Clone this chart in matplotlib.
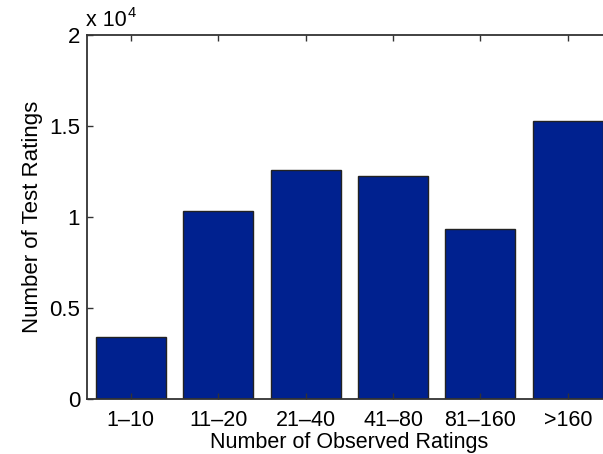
import matplotlib
matplotlib.use("Agg")
import matplotlib.pyplot as plt

categories = ["1–10", "11–20", "21–40", "41–80", "81–160", ">160"]
values = [3385, 10330, 12565, 12250, 9330, 15270]
yticks = [0, 5000, 10000, 15000, 20000]
yticklabels = ["0", "0.5", "1", "1.5", "2"]

plt.rcParams['font.family'] = ['Liberation Sans', 'DejaVu Sans']
FS = 15.5

fig = plt.figure(figsize=(6.03, 4.54), dpi=100)
ax = fig.add_axes([87/603, 55/454, (611.6-87)/603, (399-35)/454])

x = list(range(1, len(categories) + 1))
ax.bar(x, values, width=0.8, color='#00218F', edgecolor='#222222', linewidth=1.0)

ax.set_xlim(0.5, 6.5)
ax.set_ylim(0, 20000)
ax.set_xticks(x)
ax.set_xticklabels(categories, fontsize=FS)
ax.set_yticks(yticks)
ax.set_yticklabels(yticklabels, fontsize=16)
ax.tick_params(axis='x', direction='in', length=4, width=1, top=True,
               color='#333333', pad=8.1)
ax.tick_params(axis='y', direction='in', length=4, width=1, right=True,
               color='#333333', pad=5)
for s in ax.spines.values():
    s.set_linewidth(1.3)
    s.set_color('#333333')

ax.set_xlabel("Number of Observed Ratings", fontsize=FS, labelpad=0.8)
ax.set_ylabel("Number of Test Ratings", fontsize=16, labelpad=4)

fig.text(86/603, 1 - 21/454, "x 10", fontsize=15.5, ha='left', va='center')
fig.text(128/603, 1 - 13/454, "4", fontsize=10.5, ha='left', va='center')

fig.savefig("out.png", dpi=100)
